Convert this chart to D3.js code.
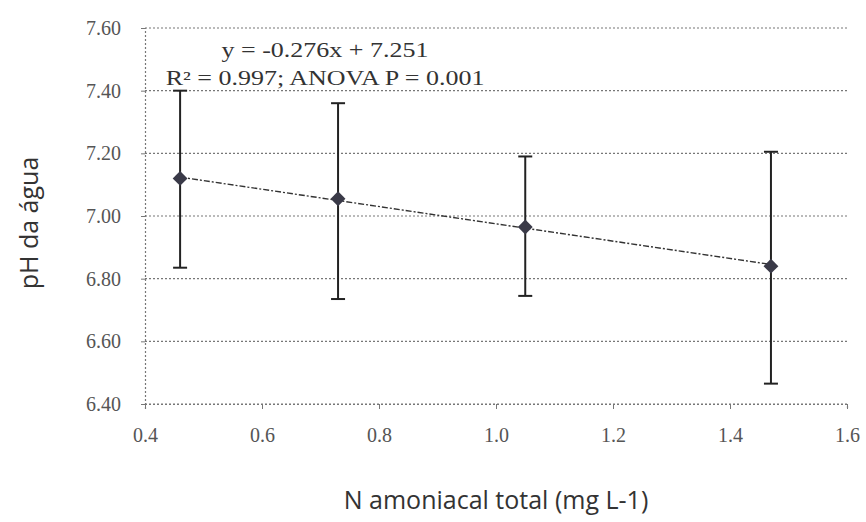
<!DOCTYPE html>
<html>
<head>
<meta charset="utf-8">
<script src="https://cdn.jsdelivr.net/npm/d3@7"></script>
<style>
  body { margin: 0; background: #fff; }
  .tick text { font-family: "Liberation Serif", "DejaVu Serif", serif; }
</style>
</head>
<body>
<div id="chart"></div>
<script>
// Data
const nAmon = [0.46, 0.73, 1.05, 1.47];
const phMean = [7.12, 7.055, 6.965, 6.84];
const phHigh = [7.40, 7.36, 7.19, 7.205];
const phLow = [6.835, 6.735, 6.745, 6.465];
const xTicks = [0.4, 0.6, 0.8, 1.0, 1.2, 1.4, 1.6];
const yTicks = [6.4, 6.6, 6.8, 7.0, 7.2, 7.4, 7.6];
const eqLines = ["y = -0.276x + 7.251", "R\u00B2 = 0.997; ANOVA P = 0.001"];
const slope = -0.276, intercept = 7.251;

const W = 866, H = 522;
const margin = {top: 28, right: 19, bottom: 118, left: 145};
const width = W - margin.left - margin.right,
      height = H - margin.top - margin.bottom;

const svg = d3.select("#chart")
    .append("svg")
    .attr("width", W)
    .attr("height", H);

const g = svg.append("g")
    .attr("transform", `translate(${margin.left},${margin.top})`);

const x = d3.scaleLinear().domain([0.4, 1.6]).range([0, width]);
const y = d3.scaleLinear().domain([6.4, 7.6]).range([height, 0]);

// Gridlines
g.selectAll(".grid")
    .data(yTicks)
    .enter()
    .append("line")
    .attr("x1", 0)
    .attr("x2", width)
    .attr("y1", d => y(d))
    .attr("y2", d => y(d))
    .attr("stroke", "#777")
    .attr("stroke-width", 1.2)
    .attr("stroke-dasharray", "2,2");

// Y axis
const yAxis = g.append("g")
    .call(d3.axisLeft(y).tickValues(yTicks).tickFormat(d3.format(".2f")).tickSize(4).tickPadding(20));
yAxis.select(".domain").attr("stroke", "#777").attr("stroke-width", 1.2).attr("stroke-dasharray", "2,2");
yAxis.selectAll(".tick line").attr("stroke", "#777");
yAxis.selectAll(".tick text").attr("font-size", 20).attr("fill", "#555");

// X axis
const xAxis = g.append("g")
    .attr("transform", `translate(0,${height})`)
    .call(d3.axisBottom(x).tickValues(xTicks).tickFormat(d3.format(".1f")).tickSize(5).tickPadding(19));
xAxis.select(".domain").attr("stroke", "#777").attr("stroke-width", 1.2).attr("stroke-dasharray", "2,2");
xAxis.selectAll(".tick line").attr("stroke", "#777");
xAxis.selectAll(".tick text").attr("font-size", 20).attr("fill", "#555");

const pts = nAmon.map((v, i) => ({x: v, m: phMean[i], hi: phHigh[i], lo: phLow[i]}));

// Trend line
const xEnds = d3.extent(nAmon);
g.append("path")
    .datum(xEnds)
    .attr("fill", "none")
    .attr("stroke", "#333")
    .attr("stroke-width", 1.4)
    .attr("stroke-dasharray", "6,2,2,2")
    .attr("d", d3.line()
        .x(d => x(d))
        .y(d => y(slope * d + intercept))
    );

// Error bars
const eb = g.selectAll(".err")
    .data(pts)
    .enter()
    .append("g");
eb.append("line")
    .attr("x1", d => x(d.x)).attr("x2", d => x(d.x))
    .attr("y1", d => y(d.hi)).attr("y2", d => y(d.lo))
    .attr("stroke", "#222").attr("stroke-width", 2);
eb.append("line")
    .attr("x1", d => x(d.x) - 7).attr("x2", d => x(d.x) + 7)
    .attr("y1", d => y(d.hi)).attr("y2", d => y(d.hi))
    .attr("stroke", "#222").attr("stroke-width", 2);
eb.append("line")
    .attr("x1", d => x(d.x) - 7).attr("x2", d => x(d.x) + 7)
    .attr("y1", d => y(d.lo)).attr("y2", d => y(d.lo))
    .attr("stroke", "#222").attr("stroke-width", 2);

// Diamond markers
g.selectAll(".pt")
    .data(pts)
    .enter()
    .append("path")
    .attr("transform", d => `translate(${x(d.x)},${y(d.m)}) rotate(45)`)
    .attr("d", d3.symbol().type(d3.symbolSquare).size(110))
    .attr("fill", "#3a3a48");

// Equation text (scan is stretched horizontally)
g.append("g")
    .attr("transform", "translate(180,0) scale(1.3,1)")
    .selectAll(".eq")
    .data(eqLines)
    .enter()
    .append("text")
    .attr("x", 0)
    .attr("y", (d, i) => 29 + i * 28)
    .attr("text-anchor", "middle")
    .attr("font-family", "Liberation Serif, serif")
    .attr("font-size", 20)
    .attr("fill", "#333")
    .text(d => d);

// Axis titles
svg.append("text")
    .attr("transform", `translate(${margin.left + width / 2},${H - 13})`)
    .attr("text-anchor", "middle")
    .attr("font-family", "Open Sans, sans-serif")
    .attr("font-size", 25)
    .attr("fill", "#333")
    .text("N amoniacal total (mg L-1)");

svg.append("text")
    .attr("transform", `translate(38,${margin.top + 195}) rotate(-90)`)
    .attr("text-anchor", "middle")
    .attr("font-family", "Open Sans, sans-serif")
    .attr("font-size", 25)
    .attr("fill", "#333")
    .text("pH da água");
</script>
</body>
</html>
